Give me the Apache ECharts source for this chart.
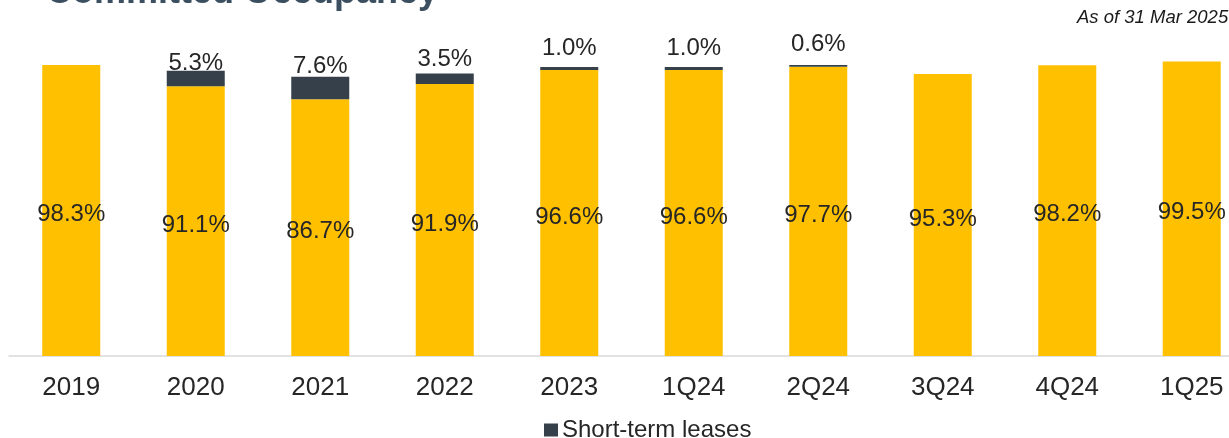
<!DOCTYPE html>
<html>
<head>
<meta charset="utf-8">
<title>Committed Occupancy</title>
<script src="https://cdn.jsdelivr.net/npm/echarts@6/dist/echarts.min.js"></script>
<style>
  html, body { margin: 0; padding: 0; background: #ffffff; overflow: hidden; }
  /* the canvas is a little wider than the page, so the last slot runs off the right edge */
  #chart { width: 1254px; height: 438px; }
</style>
</head>
<body>
<div id="chart"></div>
<script>
// Periods on the x axis
const categories = ['2019', '2020', '2021', '2022', '2023', '1Q24', '2Q24', '3Q24', '4Q24', '1Q25'];
// Committed occupancy excluding short-term leases (%)
const occupancy = [98.3, 91.1, 86.7, 91.9, 96.6, 96.6, 97.7, 95.3, 98.2, 99.5];
// Short-term leases stacked on top (%); null where there are none
const shortTerm = [null, 5.3, 7.6, 3.5, 1.0, 1.0, 0.6, null, null, null];

// Pixel gap between each short-term bar top and its label
const shortTermLabelGap = [0, -5, -2, 2, 7, 7, 9, 0, 0, 0];

const FONT = '"Liberation Sans", Arial, sans-serif';
const chart = echarts.init(document.getElementById('chart'), null, { renderer: 'canvas' });

chart.setOption({
  animation: false,
  backgroundColor: '#ffffff',
  title: [
    {
      text: 'Committed Occupancy',
      left: 41,
      top: -30,
      textStyle: { fontFamily: FONT, fontSize: 36, fontWeight: 'bold', color: '#3b4f61' }
    },
    {
      text: 'As of 31 Mar 2025',
      left: 1072,
      top: 3,
      textStyle: { fontFamily: FONT, fontSize: 18.5, fontStyle: 'italic', fontWeight: 'normal', color: '#1a1a1a' }
    }
  ],
  legend: {
    data: [{ name: 'Short-term leases', icon: 'rect' }],
    top: 413,
    left: 539,
    itemWidth: 14,
    itemHeight: 13,
    itemGap: 4,
    textStyle: { fontFamily: FONT, fontSize: 24, color: '#262626', padding: [0, 0, 0, -1] }
  },
  grid: { left: 9, right: 0, top: 60, bottom: 82, containLabel: false },
  xAxis: {
    type: 'category',
    data: categories,
    axisLine: { lineStyle: { color: '#d9d9d9', width: 1.5 } },
    axisTick: { show: false },
    axisLabel: { fontFamily: FONT, fontSize: 26, color: '#262626', margin: 19 }
  },
  yAxis: {
    type: 'value',
    min: 0,
    max: 100,
    show: false,
    splitLine: { show: false }
  },
  series: [
    {
      name: 'Committed occupancy',
      type: 'bar',
      stack: 'occ',
      data: occupancy,
      barWidth: 58,
      itemStyle: { color: '#ffc000' },
      label: {
        show: true,
        position: 'inside',
        offset: [0, 4],
        formatter: p => p.value.toFixed(1) + '%',
        fontFamily: FONT,
        fontSize: 24,
        color: '#262626'
      }
    },
    {
      name: 'Short-term leases',
      type: 'bar',
      stack: 'occ',
      data: shortTerm.map((v, i) => ({ value: v, label: { distance: shortTermLabelGap[i] } })),
      barWidth: 58,
      itemStyle: { color: '#36404a' },
      label: {
        show: true,
        position: 'top',
        formatter: p => (p.value == null ? '' : p.value.toFixed(1) + '%'),
        fontFamily: FONT,
        fontSize: 24,
        color: '#262626'
      }
    }
  ]
});
</script>
</body>
</html>
